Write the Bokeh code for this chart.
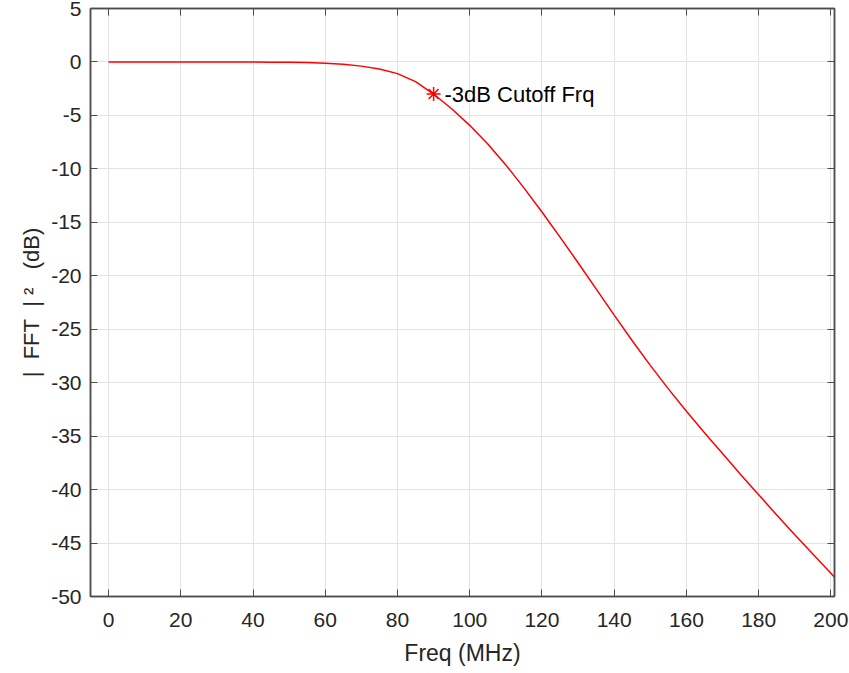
from bokeh.plotting import figure
from bokeh.models import LinearAxis, Range1d, FixedTicker
from bokeh.core.properties import value
from bokeh.embed import file_html
from bokeh.resources import INLINE

# Data
freq_mhz = [0, 10, 20, 30, 40, 45, 50, 55, 60, 65, 70, 75, 80, 85, 90, 95, 100,
            105, 110, 115, 120, 125, 130, 135, 140, 145, 150, 155, 160, 165,
            170, 175, 180, 185, 190, 195, 200, 201]
power_db = [0.0, 0.0, 0.0, 0.0, -0.01, -0.02, -0.03, -0.06, -0.12, -0.22,
            -0.39, -0.66, -1.09, -1.84, -3.0, -4.38, -5.93, -7.68, -9.63,
            -11.78, -14.03, -16.38, -18.78, -21.23, -23.68, -26.08, -28.38,
            -30.58, -32.68, -34.68, -36.63, -38.58, -40.48, -42.38, -44.23,
            -46.03, -47.83, -48.19]
cutoff_f = [90]
cutoff_db = [-3.0]
cutoff_label = "-3dB Cutoff Frq"
x_ticks = list(range(0, 201, 20))
y_ticks = list(range(-50, 6, 5))

FONT = "Liberation Sans"
TXT = "#262626"
AX = "#4d4d4d"
NB = "\u00a0"

p = figure(width=849, height=673, output_backend="svg", toolbar_location=None,
           x_range=Range1d(-5, 201), y_range=Range1d(-50, 5),
           min_border_left=90, min_border_right=15, min_border_top=8,
           min_border_bottom=77)
p.background_fill_color = "white"
p.border_fill_color = "white"
p.outline_line_color = AX
p.outline_line_width = 1.5

for ax in (p.xaxis[0], p.yaxis[0]):
    ax.major_label_text_font = FONT
    ax.major_label_text_font_size = "21px"
    ax.major_label_text_color = TXT
    ax.axis_label_text_font = FONT
    ax.axis_label_text_font_style = "normal"
    ax.axis_label_text_color = TXT
    ax.axis_line_color = AX
    ax.axis_line_width = 1.5
    ax.major_tick_line_color = AX
    ax.major_tick_in = 7
    ax.major_tick_out = 0
    ax.minor_tick_line_color = None

p.xaxis[0].ticker = FixedTicker(ticks=x_ticks)
p.yaxis[0].ticker = FixedTicker(ticks=y_ticks)
p.xaxis[0].major_label_overrides = {t: str(t) for t in x_ticks}
p.yaxis[0].major_label_overrides = {t: str(t) for t in y_ticks}
p.xaxis[0].axis_label = "Freq (MHz)"
p.yaxis[0].axis_label = ("|" + NB * 2 + "FFT" + NB * 2 + "|" + NB + "\u00b2"
                         + NB * 3 + "(dB)")
p.xaxis[0].axis_label_text_font_size = "23px"
p.yaxis[0].axis_label_text_font_size = "22px"
p.xaxis[0].major_label_standoff = 16
p.yaxis[0].major_label_standoff = 9
p.xaxis[0].axis_label_standoff = 10
p.yaxis[0].axis_label_standoff = 4

for loc, tk in (("above", x_ticks), ("right", y_ticks)):
    a = LinearAxis(ticker=FixedTicker(ticks=tk),
                   major_label_overrides={t: "" for t in tk},
                   major_tick_in=7, major_tick_out=0, minor_tick_line_color=None,
                   axis_line_color=AX, axis_line_width=1.5, major_tick_line_color=AX,
                   major_label_standoff=0)
    p.add_layout(a, loc)

p.xgrid.ticker = FixedTicker(ticks=x_ticks)
p.ygrid.ticker = FixedTicker(ticks=y_ticks)
p.grid.grid_line_color = "#e3e3e3"
p.grid.grid_line_width = 1

p.line(freq_mhz, power_db, line_color="#ff0000", line_width=1.5)
p.scatter(cutoff_f, cutoff_db, marker="asterisk", size=14, line_color="#ff0000",
          line_width=1.5)
p.text([cutoff_f[0] + 3], cutoff_db, text=[cutoff_label], text_font=value(FONT),
       text_font_size="22px", text_color="#000000", text_baseline="middle",
       text_align="left")

open("out.html", "w").write(file_html(p, INLINE))
